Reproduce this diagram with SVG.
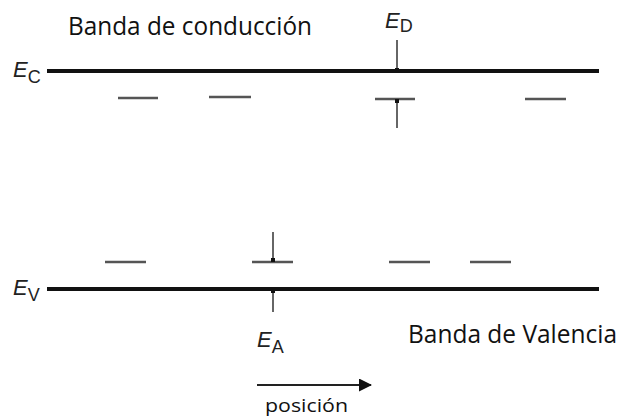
<svg xmlns="http://www.w3.org/2000/svg" width="620" height="418" viewBox="0 0 620 418">
<defs>
<marker id="dot" viewBox="0 0 4 4" refX="2" refY="2" markerWidth="4" markerHeight="4" markerUnits="userSpaceOnUse"><rect x="0" y="0" width="4" height="4" fill="#111"/></marker>
<marker id="ah" viewBox="0 0 13 13" refX="12" refY="6.5" markerWidth="13" markerHeight="13" markerUnits="userSpaceOnUse" orient="auto"><path d="M0,0 L13,6.5 L0,13 Z" fill="#111"/></marker>
</defs>
<style>
.band{stroke:#111;stroke-width:4;fill:none}
.lvl{stroke:#555;stroke-width:2.5;fill:none}
.ar{stroke:#333;stroke-width:1.5;fill:none}
.lbl{font-family:"Open Sans","DejaVu Sans",sans-serif;font-size:25px;fill:#111}
.sym{font-family:"Liberation Sans",Arial,sans-serif;font-size:22px;fill:#222}
.sub{font-size:18px;font-style:normal}
</style>
<g id="conduction">
<line class="band" x1="47" y1="71" x2="599" y2="71"/>
<text class="sym" x="13" y="77"><tspan font-style="italic">E</tspan><tspan class="sub" dy="6">C</tspan></text>
<text class="lbl" x="68" y="35" textLength="244" lengthAdjust="spacingAndGlyphs">Banda de conducción</text>
</g>
<g id="valence">
<line class="band" x1="47" y1="289" x2="599" y2="289"/>
<text class="sym" x="13" y="295"><tspan font-style="italic">E</tspan><tspan class="sub" dy="6">V</tspan></text>
<text class="lbl" x="408" y="343" textLength="209" lengthAdjust="spacingAndGlyphs">Banda de Valencia</text>
</g>
<g id="donors">
<line class="lvl" x1="118" y1="98" x2="158" y2="98"/>
<line class="lvl" x1="209" y1="97" x2="251" y2="97"/>
<line class="lvl" x1="375" y1="99" x2="415" y2="99"/>
<line class="lvl" x1="525" y1="99" x2="566" y2="99"/>
</g>
<g id="acceptors">
<line class="lvl" x1="105" y1="262" x2="146" y2="262"/>
<line class="lvl" x1="252" y1="262" x2="293" y2="262"/>
<line class="lvl" x1="389" y1="262" x2="430" y2="262"/>
<line class="lvl" x1="470" y1="262" x2="511" y2="262"/>
</g>
<g id="ED">
<text class="sym" x="385" y="28"><tspan font-style="italic">E</tspan><tspan class="sub" dy="4">D</tspan></text>
</g>
<g id="EA">
<text class="sym" x="257" y="347"><tspan font-style="italic">E</tspan><tspan class="sub" dy="6">A</tspan></text>
</g>
<g id="posicion">
<text class="lbl" x="265" y="412" style="font-size:19px" textLength="83" lengthAdjust="spacingAndGlyphs">posición</text>
</g>
<g id="connectors">
<line class="ar" x1="397" y1="40" x2="397" y2="70" marker-end="url(#dot)"/>
<line class="ar" x1="397" y1="128" x2="397" y2="101" marker-end="url(#dot)"/>
<line class="ar" x1="273" y1="232" x2="273" y2="260" marker-end="url(#dot)"/>
<line class="ar" x1="273" y1="312" x2="273" y2="291" marker-end="url(#dot)"/>
<line stroke="#222" stroke-width="2" x1="257" y1="385" x2="371" y2="385" marker-end="url(#ah)"/>
</g>
</svg>
